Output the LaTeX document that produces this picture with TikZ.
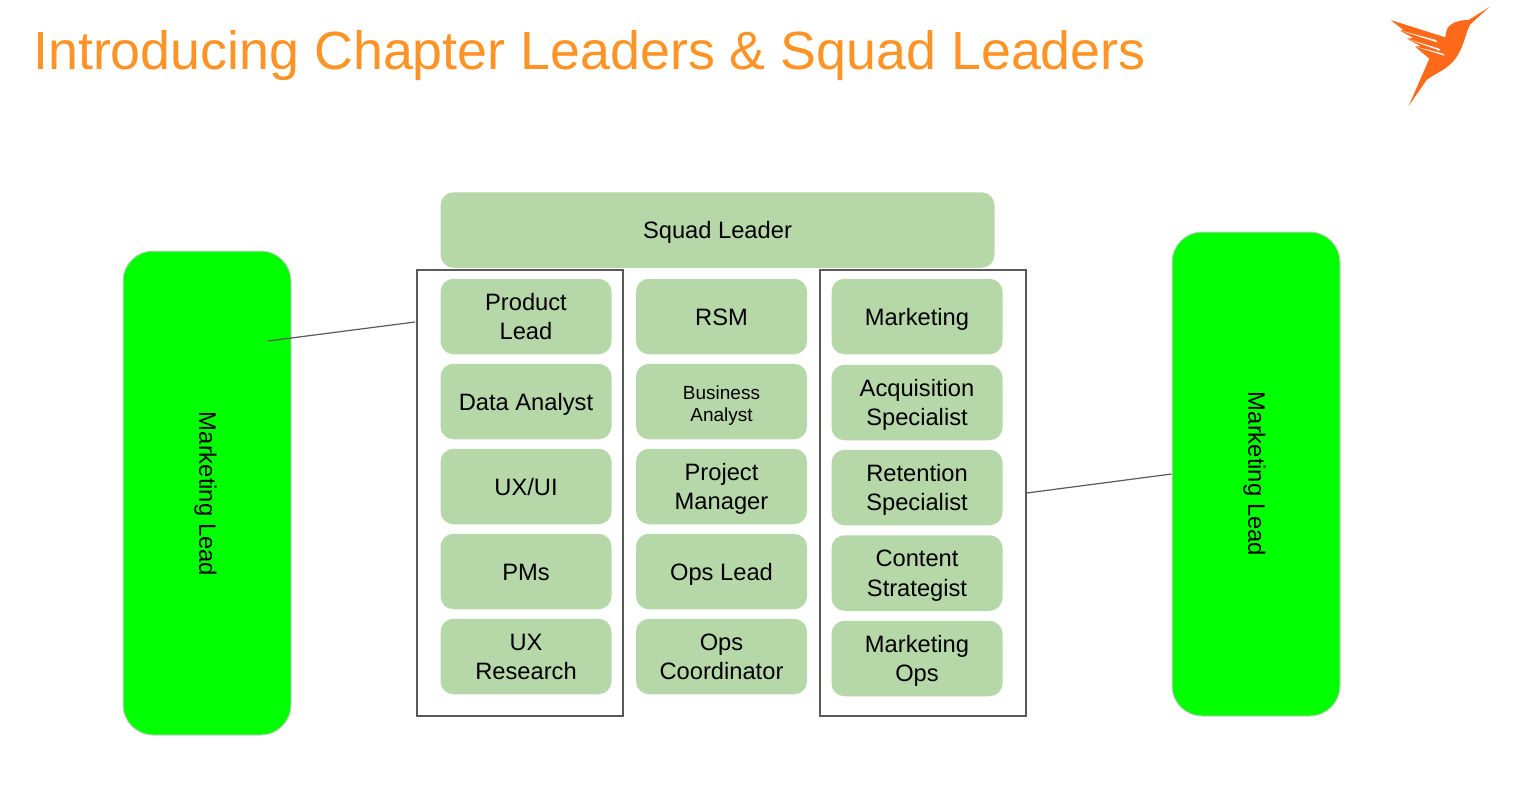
\documentclass[tikz,border=0pt]{standalone}
\usepackage{fontspec}
\setmainfont{Liberation Sans}
\definecolor{sage}{HTML}{B6D7A8}
\definecolor{titleor}{HTML}{FF9326}
\definecolor{birdor}{HTML}{FF6A1A}
\definecolor{linegr}{HTML}{595959}
\newcommand{\oneline}[1]{\rule{0pt}{17pt}\smash{#1}}
\newcommand{\twolines}[2]{\rule{0pt}{17pt}#1\\\leavevmode\smash{#2}}
\tikzset{
  role/.style={fill=sage,rounded corners=13pt,minimum width=171pt,minimum height=75.5pt,inner sep=0pt,align=center,font=\fontsize{23.7}{29.5}\selectfont,text=black},
  small/.style={font=\fontsize{19}{22}\selectfont},
  frame/.style={draw=linegr,line width=1.5pt,inner sep=0pt,fill=none},
  lead/.style={fill=green,draw=black!20,line width=1pt,rounded corners=30pt,minimum width=168pt,inner sep=0pt},
  leadtext/.style={font=\fontsize{23.8}{28}\selectfont,rotate=-90},
  link/.style={draw=linegr,line width=1.2pt},
}
\begin{document}
\begin{tikzpicture}[x=1pt,y=-1pt]
\useasboundingbox (0,0) rectangle (1516,785);
\node[anchor=base west,text=titleor,font=\fontsize{53.8}{60}\selectfont,inner sep=0pt] (title) at (33,69.5) {Introducing Chapter Leaders \& Squad Leaders};
% bird
\begin{scope}[shift={(1370,0)},x=0.3333pt,y=-0.3333pt]
\fill[birdor] (358,21) -- (296,60) .. controls (272,60) and (243,66) .. (232,86)
  .. controls (227,96) and (227,103) .. (226,112) -- (150,88) -- (62,60)
  -- (100,90) -- (90,92) -- (130,114) -- (110,116) -- (152,138) -- (135,140)
  -- (178,176) -- (116,318) -- (170,240)
  .. controls (195,220) and (230,210) .. (255,178)
  .. controls (280,145) and (285,105) .. (300,74) -- cycle;
\fill[white] (90,91) -- (198,120) -- (201,127) -- cycle;
\fill[white] (110,116) -- (208,146) -- (211,153) -- cycle;
\fill[white] (134,139) -- (220,161) -- (223,167) -- cycle;
\end{scope}
% frames
\node[frame,minimum width=206pt,minimum height=446pt] (fl) at (520,493) {};
\node[frame,minimum width=206pt,minimum height=446pt] (fr) at (923,493) {};
% squad leader
\node[role,minimum width=554pt,minimum height=75.5pt] (squad) at (717.5,230) {\oneline{Squad Leader}};
% column 1
\node[role] (a1) at (526,316.5) {\twolines{Product}{Lead}};
\node[role] (a2) at (526,401.5) {\oneline{Data Analyst}};
\node[role] (a3) at (526,486.5) {\oneline{UX/UI}};
\node[role] (a4) at (526,571.5) {\oneline{PMs}};
\node[role] (a5) at (526,656.5) {\twolines{UX}{Research}};
% column 2
\node[role] (b1) at (721.5,316.5) {\oneline{RSM}};
\node[role,small] (b2) at (721.5,401.5) {\twolines{Business}{Analyst}};
\node[role] (b3) at (721.5,486.5) {\twolines{Project}{Manager}};
\node[role] (b4) at (721.5,571.5) {\oneline{Ops Lead}};
\node[role] (b5) at (721.5,656.5) {\twolines{Ops}{Coordinator}};
% column 3
\node[role] (c1) at (917,316.5) {\oneline{Marketing}};
\node[role] (c2) at (917,402.5) {\twolines{Acquisition}{Specialist}};
\node[role] (c3) at (917,487.5) {\twolines{Retention}{Specialist}};
\node[role] (c4) at (917,573) {\twolines{Content}{Strategist}};
\node[role] (c5) at (917,658.5) {\twolines{Marketing}{Ops}};
% leads
\node[lead,minimum height=484pt] (ll) at (207,493) {};
\node[lead,minimum height=484pt] (lr) at (1256,474) {};
\node[leadtext] (llt) at (205.5,494) {Marketing Lead};
\node[leadtext] (lrt) at (1254.5,474) {Marketing Lead};
% connectors
\coordinate (lstart) at (268,341);
\coordinate (lend) at (415,322);
\draw[link] (lstart) -- (lend);
\draw[link] (fr.east) -- (lr.west);
\end{tikzpicture}
\end{document}
